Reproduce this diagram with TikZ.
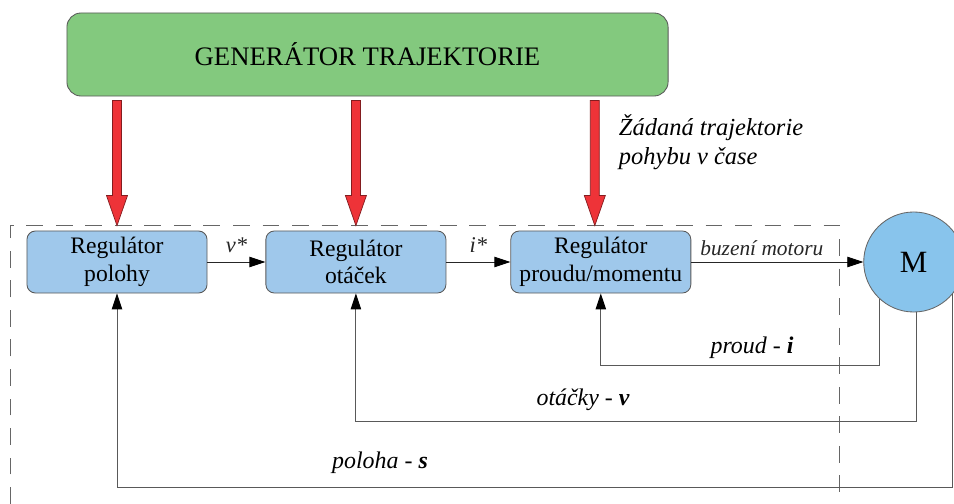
\documentclass[tikz,border=0pt]{standalone}
\usepackage{fontspec}
\setmainfont{LiberationSerif}[Extension=.ttf,UprightFont=*-Regular,BoldFont=*-Bold,
  ItalicFont=*-Italic,BoldItalicFont=*-BoldItalic]
\usetikzlibrary{arrows.meta,positioning,calc}
\definecolor{cgreen}{HTML}{83C97E}
\definecolor{cblue}{HTML}{9FC8EB}
\definecolor{cmotor}{HTML}{88C4EC}
\definecolor{cred}{HTML}{EE3338}

\begin{document}
\begin{tikzpicture}[x=0.025cm,y=-0.025cm,
  font=\fontsize{16.8}{19.5}\selectfont,
  reg/.style={rounded corners=6pt,draw=black!65,fill=cblue,align=center,
              minimum width=4.5cm,minimum height=1.55cm,inner sep=1pt,line width=0.6pt},
  arr/.style={-{Triangle[length=4mm,width=2.6mm,black]},line width=0.6pt,black!85},
  fb/.style={arr,draw=black!65,line width=0.7pt},
  lbl/.style={font=\fontsize{17}{20}\selectfont\itshape},
  redarr/.style={fill=cred,draw=cred!55!black,line width=0.5pt}]
  \useasboundingbox (0,0) rectangle (954,504);
  % generator and setpoint text
  \node[rounded corners=10pt,draw=black!65,fill=cgreen,line width=0.6pt,
        minimum width=15.025cm,minimum height=2.075cm,
        font=\fontsize{19}{22}\selectfont] (gen) at (367.5,54.5) {GENERÁTOR TRAJEKTORIE};
  \node[lbl,align=left,anchor=west,font=\fontsize{17.4}{21}\selectfont\itshape]
    (zad) at (614,142) {Žádaná trajektorie\\pohybu v čase};
  % control loop boundary
  \draw[dashed,dash pattern=on 12pt off 9pt,black!60,line width=0.6pt]
    (10,504) -- (10,225) -- (839,225) -- (839,504);
  % regulators
  \node[reg] (polohy) at (117,262) {Regulátor\\polohy};
  \node[reg,right=1.45cm of polohy] (otacek) {Regulátor\\otáček};
  \node[reg,right=1.6cm of otacek] (proud) {Regulátor\\proudu/momentu};
  \node[circle,draw=black!60,fill=cmotor,minimum size=2.5cm,line width=0.6pt,
        font=\fontsize{22}{24}\selectfont,right=4.3cm of proud] (M) {M};
  % setpoints from the generator
  \foreach \b/\dx in {polohy/0,otacek/0,proud/-6}{
    \path ($(\b.north |- gen.south)+(\dx,4)$) coordinate (top)
          ($(\b.north)+(\dx,-5)$) coordinate (tip);
    \draw[redarr] ($(top)+(-4.5,0)$) -- ($(top)+(4.5,0)$) -- ($(tip)+(4.5,-30)$)
      -- ($(tip)+(10.5,-30)$) -- (tip) -- ($(tip)+(-10.5,-30)$)
      -- ($(tip)+(-4.5,-30)$) -- cycle;
  }
  % forward path
  \draw[arr] (polohy) -- node[lbl,above=3pt,font=\fontsize{16}{18}\selectfont\itshape] (vst) {v*} (otacek);
  \draw[arr] (otacek) -- node[lbl,above=3pt,font=\fontsize{16}{18}\selectfont\itshape] (ist) {i*} (proud);
  \draw[arr] (proud) -- node[lbl,above=1pt,pos=0.41,font=\fontsize{15.2}{18}\selectfont\itshape] (buz) {buzení motoru} (M);
  % feedback
  \draw[fb] (M.227) |- ($(proud.south)+(0,72)$) -- (proud.south);
  \draw[fb] (M.273) |- ($(otacek.south)+(0,128)$) -- (otacek.south);
  \draw[fb] (M.320) |- ($(polohy.south)+(0,194)$) -- (polohy.south);
  \node[lbl] (lproud) at (752,348) {proud - \textbf{i}};
  \node[lbl] (lotac) at (583,400) {otáčky - \textbf{v}};
  \node[lbl] (lpol) at (380,463) {poloha - \textbf{s}};
\end{tikzpicture}
\end{document}
